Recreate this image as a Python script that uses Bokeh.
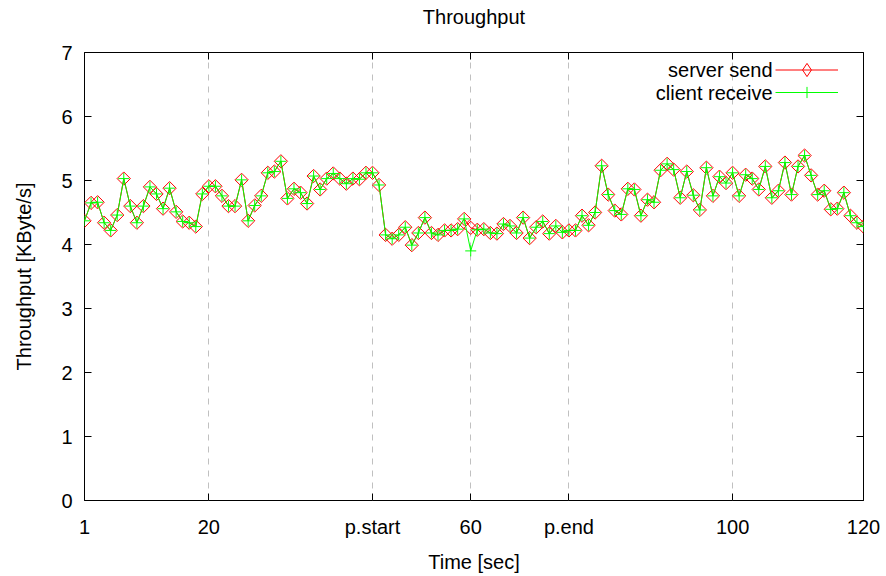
import math
from bokeh.plotting import figure
from bokeh.models import Range1d, FixedTicker, LinearAxis, Legend, LegendItem, Label
from bokeh.embed import file_html
from bokeh.resources import INLINE

# ---------------- data ----------------
time_sec = list(range(1, 121))

server_send = [
    4.37, 4.65, 4.66, 4.34, 4.22, 4.46, 5.03, 4.60, 4.34, 4.60,
    4.90, 4.79, 4.56, 4.88, 4.51, 4.36, 4.34, 4.28, 4.79, 4.91,
    4.91, 4.76, 4.60, 4.60, 5.01, 4.37, 4.61, 4.76, 5.12, 5.14,
    5.30, 4.72, 4.87, 4.81, 4.64, 5.07, 4.86, 5.03, 5.11, 5.03,
    4.95, 5.03, 5.02, 5.12, 5.12, 4.93, 4.15, 4.09, 4.15, 4.27,
    3.99, 4.18, 4.42, 4.18, 4.15, 4.22, 4.22, 4.24, 4.40, 4.26,
    4.23, 4.24, 4.18, 4.17, 4.32, 4.29, 4.18, 4.42, 4.10, 4.27,
    4.36, 4.17, 4.29, 4.19, 4.22, 4.22, 4.45, 4.30, 4.50, 5.23,
    4.78, 4.53, 4.47, 4.87, 4.86, 4.45, 4.70, 4.66, 5.16, 5.26,
    5.17, 4.73, 5.14, 4.77, 4.54, 5.20, 4.76, 5.06, 4.96, 5.12,
    4.76, 5.09, 5.03, 4.86, 5.22, 4.73, 4.84, 5.28, 4.78, 5.22,
    5.39, 5.08, 4.78, 4.84, 4.55, 4.56, 4.81, 4.45, 4.34, 4.28,
]

client_receive = [
    4.37, 4.65, 4.66, 4.34, 4.22, 4.46, 5.03, 4.60, 4.34, 4.60,
    4.90, 4.79, 4.56, 4.88, 4.51, 4.36, 4.34, 4.28, 4.79, 4.91,
    4.91, 4.76, 4.60, 4.60, 5.01, 4.37, 4.61, 4.76, 5.12, 5.14,
    5.30, 4.72, 4.87, 4.81, 4.64, 5.07, 4.86, 5.03, 5.11, 5.03,
    4.95, 5.03, 5.02, 5.12, 5.12, 4.93, 4.15, 4.09, 4.15, 4.27,
    3.99, 4.18, 4.42, 4.18, 4.15, 4.22, 4.22, 4.24, 4.40, 3.90,
    4.23, 4.24, 4.18, 4.17, 4.32, 4.29, 4.18, 4.42, 4.10, 4.27,
    4.36, 4.17, 4.29, 4.19, 4.22, 4.22, 4.45, 4.30, 4.50, 5.23,
    4.78, 4.53, 4.47, 4.87, 4.86, 4.45, 4.70, 4.66, 5.16, 5.26,
    5.17, 4.73, 5.14, 4.77, 4.54, 5.20, 4.76, 5.06, 4.96, 5.12,
    4.76, 5.09, 5.03, 4.86, 5.22, 4.73, 4.84, 5.28, 4.78, 5.22,
    5.39, 5.08, 4.78, 4.84, 4.55, 4.56, 4.81, 4.45, 4.34, 4.28,
]

x_ticks = [1, 20, 45, 60, 75, 100, 120]
x_tick_labels = ["1", "20", "p.start", "60", "p.end", "100", "120"]
y_ticks = [0, 1, 2, 3, 4, 5, 6, 7]

title_text = "Throughput"
x_title = "Time [sec]"
y_title = "Throughput [KByte/s]"
series_names = ["server send", "client receive"]
series_colors = ["#ff0000", "#00ff00"]

FONT = "Liberation Sans"
FS = "20px"

# ---------------- figure ----------------
p = figure(width=886, height=576, output_backend="svg", toolbar_location=None,
           x_range=Range1d(1, 120), y_range=Range1d(0, 7),
           min_border_left=84, min_border_right=23, min_border_top=52,
           min_border_bottom=76)
p.background_fill_color = "white"
p.border_fill_color = "white"
p.outline_line_color = "black"
p.outline_line_width = 1


def style_axis(ax):
    ax.axis_line_color = None
    ax.major_tick_in = 7
    ax.major_tick_out = 0
    ax.minor_tick_in = 0
    ax.minor_tick_out = 0
    ax.major_tick_line_color = "black"
    ax.major_tick_line_width = 1
    ax.major_label_text_font = FONT
    ax.major_label_text_font_size = FS
    ax.major_label_text_color = "black"
    ax.axis_label_text_font = FONT
    ax.axis_label_text_font_size = FS
    ax.axis_label_text_font_style = "normal"
    ax.axis_label_text_color = "black"


xa = p.xaxis[0]
xa.ticker = FixedTicker(ticks=x_ticks)
xa.major_label_overrides = {t: lab for t, lab in zip(x_ticks, x_tick_labels)}
style_axis(xa)
xa.major_label_standoff = 15
xa.axis_label = x_title
xa.axis_label_standoff = 10

ya = p.yaxis[0]
ya.ticker = FixedTicker(ticks=y_ticks)
style_axis(ya)
ya.major_label_standoff = 12
ya.axis_label = y_title
ya.axis_label_standoff = 23

# mirrored top axis; its label carries the chart title (centred over the frame)
top = LinearAxis(ticker=FixedTicker(ticks=x_ticks),
                 major_label_overrides={t: "" for t in x_ticks})
style_axis(top)
top.major_label_standoff = 0
top.axis_label = title_text
top.axis_label_standoff = 25
p.add_layout(top, "above")

right = LinearAxis(ticker=FixedTicker(ticks=y_ticks),
                   major_label_overrides={t: "" for t in y_ticks})
style_axis(right)
right.major_label_standoff = 0
p.add_layout(right, "right")

p.xgrid.ticker = FixedTicker(ticks=x_ticks)
p.xgrid.grid_line_color = "#c0c0c0"
p.xgrid.grid_line_dash = "6 6"
p.xgrid.grid_line_width = 1
p.ygrid.visible = False

# ---------------- series ----------------
r1 = p.line(time_sec, server_send, line_color=series_colors[0], line_width=1)
m1 = p.scatter(time_sec, server_send, marker="square", size=9.4, angle=math.pi / 4,
               fill_color=None, line_color=series_colors[0], line_width=1)
r2 = p.line(time_sec, client_receive, line_color=series_colors[1], line_width=1)
m2 = p.scatter(time_sec, client_receive, marker="cross", size=11,
               line_color=series_colors[1], line_width=1)

# legend key for the diamonds (the legend ignores the marker angle), not drawn in the plot
m1_key = p.scatter(time_sec, server_send, marker="diamond", size=13,
                   fill_color=None, line_color=series_colors[0], line_width=1,
                   visible=False)

# ---------------- legend (gnuplot style: text left, sample right) ----------------
legend_style = dict(glyph_width=63, padding=0, margin=0, label_standoff=0,
                    label_text_font_size="10px", click_policy="none",
                    border_line_color=None, background_fill_alpha=0)
leg1 = Legend(items=[LegendItem(label=" ", renderers=[r1, m1_key])],
              location=(691, 414.5), glyph_height=33, **legend_style)
leg2 = Legend(items=[LegendItem(label=" ", renderers=[r2, m2])],
              location=(691, 394), glyph_height=28, **legend_style)
p.add_layout(leg1)
p.add_layout(leg2)

for i, name in enumerate(series_names):
    p.add_layout(Label(x=688, y=431 - 23 * i, x_units="screen", y_units="screen",
                       text=name, text_align="right", text_baseline="middle",
                       text_font=FONT, text_font_size=FS, text_color="black"))

open("out.html", "w").write(file_html(p, INLINE))
